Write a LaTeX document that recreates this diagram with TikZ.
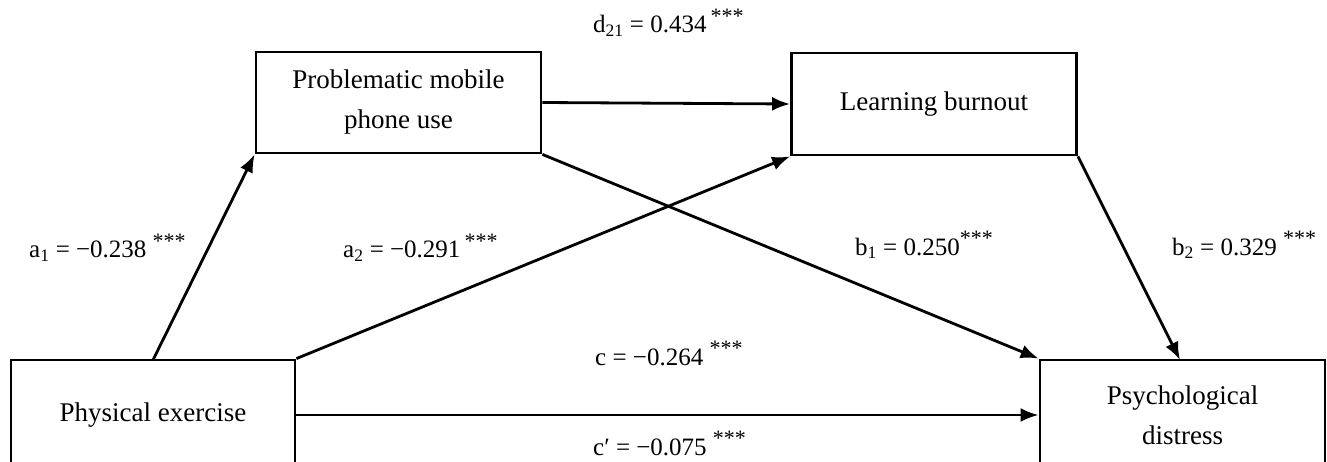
\documentclass[tikz,border=0pt]{standalone}
\usepackage{fontspec}
\setmainfont{Liberation Serif}
\usetikzlibrary{arrows.meta}
\tikzset{
  box/.style={draw, line width=2.8pt, rectangle, align=center, inner sep=0pt,
    minimum width=285pt, font=\fontsize{27}{40}\selectfont},
  conn/.style={line width=2.8pt, -{Latex[length=18pt,width=14pt]}},
  lab/.style={anchor=base west, inner sep=0pt, font=\fontsize{25}{30}\selectfont},
}
\newcommand{\stars}{\textsuperscript{\fontsize{22}{22}\selectfont ***}}
\begin{document}
\begin{tikzpicture}[x=1pt,y=-1pt]
\useasboundingbox (0,0) rectangle (1327,462);
\clip (0,0) rectangle (1327,462);
\node[box, minimum height=101pt] (pm) at (398.5,102.5) {Problematic mobile\\phone use};
\node[box, minimum height=102pt] (lb) at (934,104) {Learning burnout};
\node[box, minimum height=110pt, minimum width=284pt] (pe) at (153,415) {Physical exercise};
\node[box, minimum height=110pt] (pd) at (1182.5,415) {Psychological\\distress};
\coordinate (peTop) at (153,360);
\coordinate (pdTop) at (1180,360);
\draw[conn] (peTop) -- (pm.south west);
\draw[conn] (pe.north east) -- (lb.south west);
\draw[conn] (pm.south east) -- (pd.north west);
\draw[conn] (lb.south east) -- (pdTop);
\draw[conn] (pm.east) -- (lb.west);
\draw[conn] (pe.east) -- (pd.west);
\node[lab] (d21) at (593,33) {d\textsubscript{21} = 0.434\,\stars};
\node[lab] (a1) at (29,258) {a\textsubscript{1} = −0.238 \stars};
\node[lab] (a2) at (343,258) {a\textsubscript{2} = −0.291\,\stars};
\node[lab] (b1) at (855,255) {b\textsubscript{1} = 0.250\stars};
\node[lab] (b2) at (1172,255) {b\textsubscript{2} = 0.329 \stars};
\node[lab] (c) at (595,365) {c = −0.264 \stars};
\node[lab] (cp) at (593,455) {c′ = −0.075 \stars};
\end{tikzpicture}
\end{document}
